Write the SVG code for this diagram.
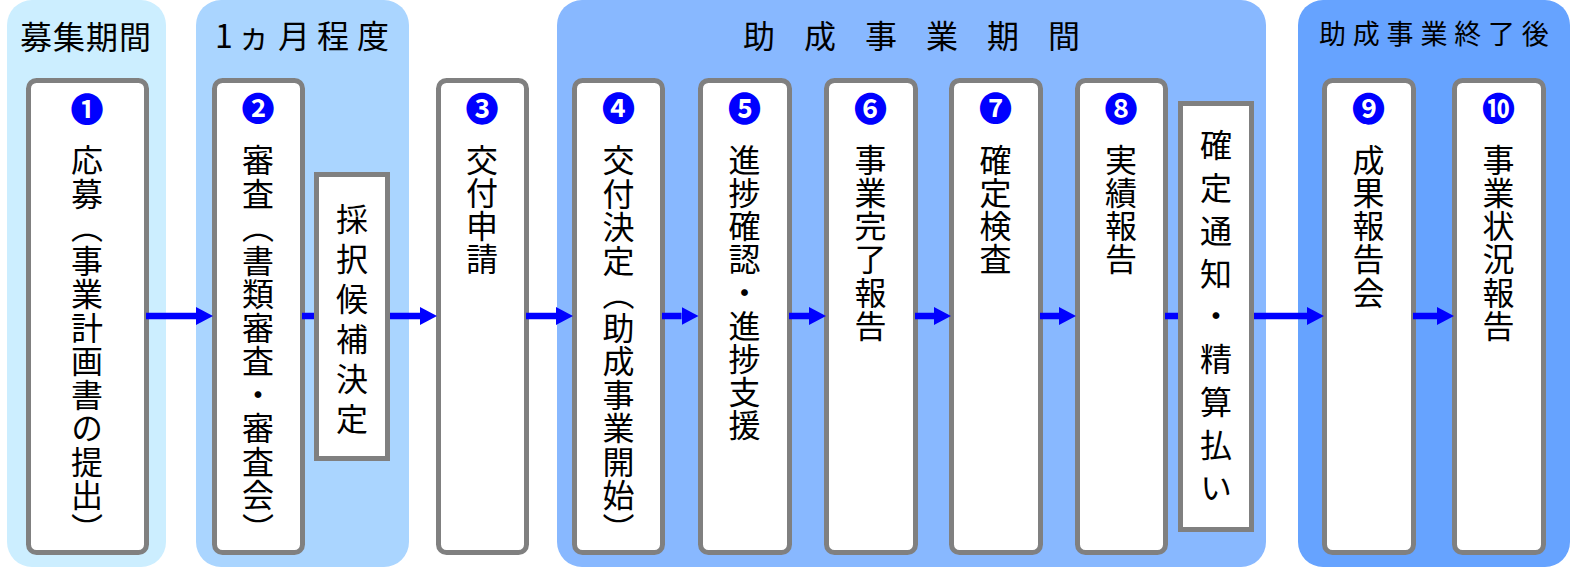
<svg xmlns="http://www.w3.org/2000/svg" width="1570" height="567" viewBox="0 0 1570 567">
<defs>
<marker id="ah" markerUnits="userSpaceOnUse" markerWidth="18" markerHeight="18" refX="0" refY="9" orient="auto"><path d="M0,0 L17,9 L0,18 Z" fill="#0000ff"/></marker>
</defs>
<style>
text{font-family:"Noto Sans CJK JP","Noto Sans CJK SC",sans-serif;fill:#000}
.h{font-size:32px}
.v{font-size:32px;writing-mode:vertical-rl;letter-spacing:1.100px}
.l{letter-spacing:1.500px}
.n{font-size:33px;fill:#0000ff;text-anchor:middle;font-weight:700}
.b{fill:#fff;stroke:#808080;stroke-width:5}
.c{stroke:#0000ff;stroke-width:6.500;fill:none}
</style>
<g id="bands">
<rect x="7" y="0" width="159" height="567" rx="25" fill="#cceeff"/>
<rect x="196" y="0" width="213" height="567" rx="25" fill="#aad5ff"/>
<rect x="557" y="0" width="709" height="567" rx="25" fill="#88b8ff"/>
<rect x="1298" y="0" width="272" height="567" rx="25" fill="#66a3ff"/>
<text class="h" x="20" y="49" letter-spacing="1">募集期間</text>
<text class="h" x="215 238 278 317 357" y="47.500">1ヵ月程度</text>
<text class="h" x="743" y="47.500" letter-spacing="29">助成事業期間</text>
<text x="1319" y="44" style="font-size:27px" letter-spacing="6.800">助成事業終了後</text>
</g>
<g id="n1"><rect class="b" x="28.500" y="80.500" width="118" height="472" rx="8"/><text class="n" x="87" y="122">❶</text><text class="v l" x="87" y="144">応募（事業計画書の提出）</text></g>
<g id="n2"><rect class="b" x="214.500" y="80.500" width="88" height="472" rx="8"/><text class="n" x="258" y="121">❷</text><text class="v l" x="258" y="144">審査（書類審査・審査会）</text></g>
<g id="n3"><rect class="b" x="438.500" y="80.500" width="88" height="472" rx="8"/><text class="n" x="482" y="121">❸</text><text class="v" x="482" y="144">交付申請</text></g>
<g id="n4"><rect class="b" x="574.500" y="80.500" width="88" height="472" rx="8"/><text class="n" x="618.500" y="121">❹</text><text class="v l" x="618.500" y="144">交付決定（助成事業開始）</text></g>
<g id="n5"><rect class="b" x="700.500" y="80.500" width="89" height="472" rx="8"/><text class="n" x="744.500" y="121">❺</text><text class="v" x="744.500" y="144">進捗確認・進捗支援</text></g>
<g id="n6"><rect class="b" x="826.500" y="80.500" width="89" height="472" rx="8"/><text class="n" x="870.500" y="121">❻</text><text class="v" x="870.500" y="144">事業完了報告</text></g>
<g id="n7"><rect class="b" x="951.500" y="80.500" width="89" height="472" rx="8"/><text class="n" x="995.500" y="121">❼</text><text class="v" x="995.500" y="144">確定検査</text></g>
<g id="n8"><rect class="b" x="1077.500" y="80.500" width="88" height="472" rx="8"/><text class="n" x="1121" y="121">❽</text><text class="v" x="1121" y="144">実績報告</text></g>
<g id="n9"><rect class="b" x="1324.500" y="80.500" width="89" height="472" rx="8"/><text class="n" x="1368.500" y="121">❾</text><text class="v" x="1368.500" y="144">成果報告会</text></g>
<g id="n10"><rect class="b" x="1454.500" y="80.500" width="89" height="472" rx="8"/><text class="n" x="1498.500" y="121">❿</text><text class="v" x="1498.500" y="144">事業状況報告</text></g>
<g id="connectors">
<path class="c" d="M146,316 H196" marker-end="url(#ah)"/>
<path class="c" d="M302,316 H420" marker-end="url(#ah)"/>
<path class="c" d="M526,316 H556" marker-end="url(#ah)"/>
<path class="c" d="M662,316 H681.500" marker-end="url(#ah)"/>
<path class="c" d="M789,316 H809" marker-end="url(#ah)"/>
<path class="c" d="M915,316 H934" marker-end="url(#ah)"/>
<path class="c" d="M1040,316 H1059" marker-end="url(#ah)"/>
<path class="c" d="M1165,316 H1307" marker-end="url(#ah)"/>
<path class="c" d="M1413,316 H1437" marker-end="url(#ah)"/>
</g>
<g id="n2b"><rect class="b" x="316.500" y="174.500" width="71" height="284"/><text class="v" x="352" y="203" style="letter-spacing:8px">採択候補決定</text></g>
<g id="n8b"><rect class="b" x="1180.500" y="103.500" width="71" height="426"/><text class="v" x="1216" y="129" style="letter-spacing:10.800px">確定通知・精算払い</text></g>
</svg>
